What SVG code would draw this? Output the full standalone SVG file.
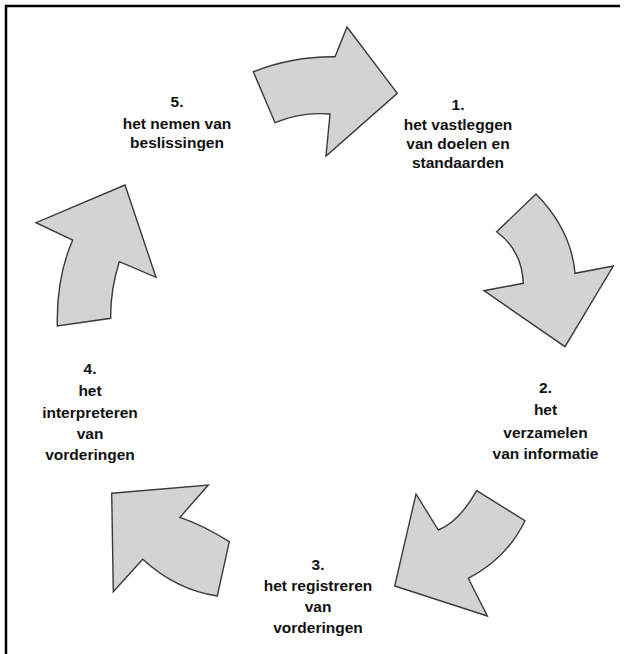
<svg xmlns="http://www.w3.org/2000/svg" width="626" height="654" viewBox="0 0 626 654">
<style>
.arrow{fill:#d3d3d3;stroke:#3a3a3a;stroke-width:1.4;stroke-linejoin:miter}
.lbl{font-family:"Liberation Sans",Arial,sans-serif;font-weight:bold;font-size:15.5px;fill:#111;text-anchor:middle}
.frame{fill:none;stroke:#000;stroke-width:2.5}
</style>
<rect width="626" height="654" fill="#fff"/>
<path class="frame" d="M6,654 V6 H620"/>
<g id="connectors">
<path id="arrow1" class="arrow" d="M253.3,71.7 Q292.5,56.2 335,56.7 L347,27 L397.3,93.3 L326,156 L330,114 Q300.8,111.7 275,122.7 Z"/>
<path id="arrow2" class="arrow" d="M536,194 Q571.2,229.7 575,273.3 L613.3,266 L565,346.7 L484,290.7 L523.3,283.3 Q522,250.5 496.7,231.7 Z"/>
<path id="arrow3" class="arrow" d="M476.7,490.7 L525,520.7 Q506.7,558.5 468.3,578.3 L487.3,616 L394.7,586 L416,494 L438.3,530 Q459.2,521.7 476.7,490.7 Z"/>
<path id="arrow4" class="arrow" d="M111.7,493.3 L208.3,485 L180,517.3 Q203.3,525.2 229.3,541.7 L217.3,596 Q176.7,590.3 142.7,559.3 L113.3,591.7 Z"/>
<path id="arrow5" class="arrow" d="M125,185 L36,222.7 L72.7,240 Q56.3,277 57.3,326 L110.7,318.3 Q110.3,290 119.3,261.7 L156,277.3 Z"/>
</g>
<g id="node1">
<text class="lbl" x="458" y="110">1.</text>
<text class="lbl" x="458" y="130">het vastleggen</text>
<text class="lbl" x="458" y="149">van doelen en</text>
<text class="lbl" x="458" y="167.5">standaarden</text>
</g>
<g id="node2">
<text class="lbl" x="545.5" y="392.5">2.</text>
<text class="lbl" x="545.5" y="415">het</text>
<text class="lbl" x="545.5" y="437.5">verzamelen</text>
<text class="lbl" x="545.5" y="458.5">van informatie</text>
</g>
<g id="node3">
<text class="lbl" x="318" y="569.5">3.</text>
<text class="lbl" x="318" y="591">het registreren</text>
<text class="lbl" x="318" y="612">van</text>
<text class="lbl" x="318" y="633">vorderingen</text>
</g>
<g id="node4">
<text class="lbl" x="90" y="373.5">4.</text>
<text class="lbl" x="90" y="396">het</text>
<text class="lbl" x="90" y="417.5">interpreteren</text>
<text class="lbl" x="90" y="439">van</text>
<text class="lbl" x="90" y="460">vorderingen</text>
</g>
<g id="node5">
<text class="lbl" x="177" y="106.5">5.</text>
<text class="lbl" x="177" y="128.5">het nemen van</text>
<text class="lbl" x="177" y="147.5">beslissingen</text>
</g>
</svg>
